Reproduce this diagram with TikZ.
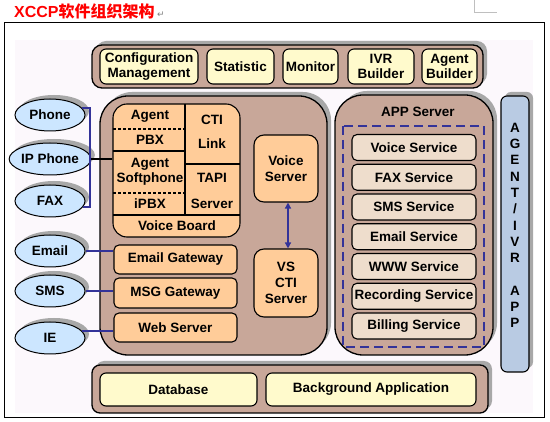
\documentclass[tikz,border=0pt]{standalone}
\usepackage{fontspec}
\setmainfont{Liberation Sans}
\newfontfamily\cjk{Noto Sans CJK SC}
\newfontfamily\symfont{DejaVu Sans}
\usetikzlibrary{shapes.geometric,shadows,arrows.meta}

\definecolor{panelbrown}{HTML}{C8A799}
\definecolor{shadowgray}{HTML}{A8A8A8}
\definecolor{bglav}{HTML}{FCF8FC}
\definecolor{boxyellow}{HTML}{FFFACC}
\definecolor{boxorange}{HTML}{FFCC99}
\definecolor{svcbeige}{HTML}{EEDDCC}
\definecolor{termblue}{HTML}{CCE6FF}
\definecolor{barblue}{HTML}{B9CBE3}
\definecolor{connblue}{HTML}{333399}
\definecolor{titlered}{HTML}{FF0000}

\tikzset{
  every node/.style={font=\bfseries\fontsize{13.5}{15.5}\selectfont, inner sep=0pt, align=center},
  shadowed/.style={drop shadow={shadow xshift=4pt, shadow yshift=4pt, fill=shadowgray, opacity=1}},
  panel/.style={draw=black, line width=1.3pt, fill=panelbrown, shadowed},
  modbox/.style={draw=black, line width=1.1pt, fill=boxyellow, rounded corners=6},
  gwbox/.style={draw=black, line width=1.1pt, fill=boxorange, rounded corners=5},
  svcbox/.style={draw=black, line width=1.1pt, fill=svcbeige, rounded corners=5,
    minimum width=124, minimum height=26},
  terminal/.style={ellipse, draw=black, line width=1pt, fill=termblue, shadowed,
    minimum width=70, minimum height=32},
  conn/.style={draw=connblue, line width=1.5pt},
  cell/.style={draw=black, line width=1.1pt},
}

\begin{document}
\begin{tikzpicture}[x=1pt,y=-1pt]
\useasboundingbox (0,0) rectangle (550,422);

\node[anchor=base west, text=titlered, font=\bfseries\fontsize{16}{16}\selectfont] (title) at (14,18) {XCCP{\cjk 软件组织架构}};
\node[anchor=base west, text=gray, font=\symfont\fontsize{9}{9}\selectfont] (ret) at ([xshift=2pt]title.base east) {↵};
\draw[gray!50, line width=0.8pt] (474,0) -- (474,12) -- (497,12);

\draw[black, line width=1pt] (4,23) rectangle (544,418);
\fill[bglav] (15,40) rectangle (533,413);

% top bar
\node[panel, rounded corners=10, minimum width=391, minimum height=43] (topbar) at (287.5,66.5) {};
\node[modbox, minimum width=98, minimum height=35] (cfg) at (149,66.5) {Configuration\\Management};
\node[modbox, minimum width=67, minimum height=35] (stat) at (240.5,66.5) {Statistic};
\node[modbox, minimum width=55, minimum height=35] (mon) at (310.5,66.5) {Monitor};
\node[modbox, minimum width=66, minimum height=35] (ivrb) at (381,66.5) {IVR\\Builder};
\node[modbox, minimum width=55, minimum height=35] (agtb) at (449.5,66.5) {Agent\\Builder};

% terminals
\node[terminal] (phone) at (50,115) {Phone};
\node[terminal] (ipphone) at (50,159) {IP Phone};
\node[terminal] (fax) at (50,201) {FAX};
\node[terminal] (email) at (50,251) {Email};
\node[terminal] (sms) at (50,291) {SMS};
\node[terminal] (ie) at (50,338) {IE};

% left panel
\node[panel, rounded corners=28, minimum width=227, minimum height=259] (core) at (213.5,225.5) {};
\node[cell, fill=boxorange, rounded corners=14, minimum width=127, minimum height=133] (tel) at (176.5,170.5) {};
\draw[cell] (185,104) -- (185,215);
\draw[cell] (113,151) -- (185,151);
\draw[cell] (185,164) -- (240,164);
\draw[cell] (113,215) -- (240,215);
\draw[cell, dash pattern=on 3pt off 2pt] (113,129) -- (185,129);
\draw[cell, dash pattern=on 3pt off 2pt] (113,193) -- (185,193);
\node (agent) at (150,116) {Agent};
\node (pbx) at (150,140) {PBX};
\node (softph) at (150,172) {Agent\\Softphone};
\node (ipbx) at (150,204) {iPBX};
\node (ctilink) at (212,132) {CTI\\[9pt]Link};
\node (tapi) at (212,191) {TAPI\\[11pt]Server};
\node (vboard) at (177,226) {Voice Board};

\node[gwbox, rounded corners=10, minimum width=64, minimum height=67,
  font=\bfseries\fontsize{13.5}{16}\selectfont] (vsrv) at (286,168.5) {Voice\\Server};
\node[gwbox, rounded corners=10, minimum width=64, minimum height=68,
  font=\bfseries\fontsize{13.5}{16}\selectfont] (vscti) at (286,283) {VS\\CTI\\Server};
\draw[conn, {Triangle[length=6pt,width=6pt]}-{Triangle[length=6pt,width=6pt]}]
  ([xshift=2pt]vsrv.south) -- ([xshift=2pt]vscti.north);

\node[gwbox, minimum width=123, minimum height=29] (emailgw) at (175.5,259.5) {Email Gateway};
\node[gwbox, minimum width=123, minimum height=30] (msggw) at (175.5,293) {MSG Gateway};
\node[gwbox, minimum width=123, minimum height=29] (websrv) at (175.5,327.5) {Web Server};

% connectors
\coordinate (brk) at (90,0);
\draw[conn] (phone.12) -- (phone.12 -| brk) -- (fax.-10 -| brk) -- (fax.-10);
\draw[black, line width=1.6pt] (ipphone.east) -- (ipphone.east -| tel.west);
\draw[conn] (email.east) -- (email.east -| emailgw.west);
\draw[conn] (sms.east) -- (sms.east -| msggw.west);
\draw[conn] (ie.12) -- (ie.12 -| websrv.west);

% app server
\node[panel, rounded corners=28, minimum width=158, minimum height=260] (appsrv) at (414,225) {};
\node (apptitle) at (418,112) {APP Server};
\draw[connblue, line width=1.8pt, dash pattern=on 9pt off 5pt] (343,126) rectangle (484,347);
\foreach \name/\txt [count=\i] in {vsvc/Voice Service, fsvc/FAX Service, ssvc/SMS Service,
    esvc/Email Service, wsvc/WWW Service, rsvc/Recording Service, bsvc/Billing Service} {
  \node[svcbox] (\name) at (414,{147.5+29.75*(\i-1)}) {\txt};
}

% agent / ivr app bar
\node[draw=black, line width=1.1pt, fill=barblue, rounded corners=6, shadowed,
  minimum width=28, minimum height=276] (agentbar) at (515,234) {};
\node[font=\bfseries\fontsize{13.5}{16.3}\selectfont] (agentlbl) at (515,225.5)
  {A\\G\\E\\N\\T\\/\\I\\V\\R\\[16.3pt]A\\P\\P};

% bottom bar
\node[panel, rounded corners=8, minimum width=396, minimum height=48] (botbar) at (290,389) {};
\node[modbox, minimum width=157, minimum height=33] (db) at (178.5,389.5) {Database};
\node[modbox, minimum width=210, minimum height=33] (bgapp) at (371,389.5) {Background Application};
\end{tikzpicture}
\end{document}
